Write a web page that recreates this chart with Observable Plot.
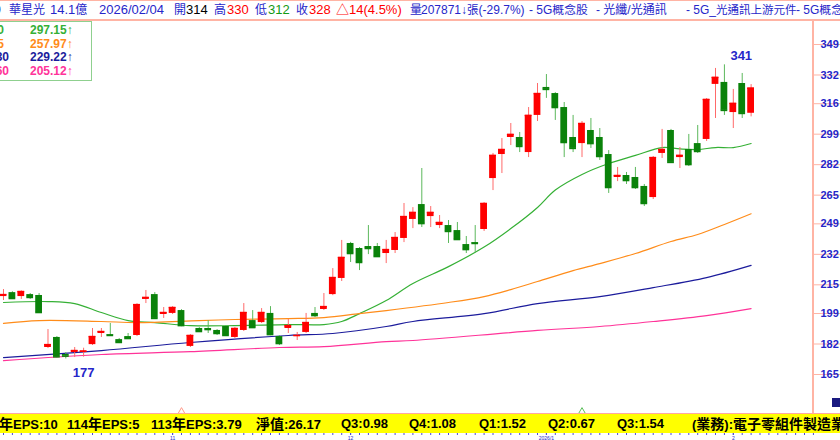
<!DOCTYPE html>
<html><head><meta charset="utf-8">
<script src="https://cdn.jsdelivr.net/npm/d3@7"></script>
<script src="https://cdn.jsdelivr.net/npm/@observablehq/plot@0.6"></script>
<style>
body{margin:0;background:#fff;}
#wrap{position:relative;width:840px;height:440px;overflow:hidden;font-family:"Liberation Sans",Arial,"Noto Sans CJK TC",sans-serif;}
#wrap svg{position:absolute;left:0;top:0;}
#hdr{position:absolute;left:0;top:0;width:840px;height:18px;border-top:1px solid #ffb4a4;border-bottom:2px solid #ffb4a4;background:#fff;z-index:2;overflow:hidden;}
#hdr span.it{position:absolute;top:1px;line-height:16px;white-space:pre;}
#leg{position:absolute;left:-40px;top:21px;width:130px;height:58px;border:1px solid #8fd08f;background:#fff;z-index:2;}
#leg span{position:absolute;font-size:12px;font-weight:bold;line-height:14px;white-space:pre;}
#bar{position:absolute;left:0;top:413px;width:840px;height:19px;border-top:1px solid #ffa8a0;background:#ffff00;z-index:2;overflow:hidden;}
#bar span.it{position:absolute;top:2px;font-size:13px;font-weight:bold;line-height:16px;color:#000;white-space:pre;}
#vline{position:absolute;left:812px;top:20px;width:2px;height:393px;background:#ffb4a4;z-index:3;}
#icon{position:absolute;left:832px;top:398px;width:8px;height:9px;background:#1a1a80;z-index:3;}
</style></head><body><div id="wrap"></div>
<script>
// ---- candle data ----
const opens  = [211.8,214.0,211.8,212.9,212.4,183.4,189.0,179.5,180.6,180.6,185.0,191.2,190.6,187.8,189.5,190.1,210.2,212.9,201.8,202.4,204.0,184.0,194.0,194.0,192.9,195.1,189.0,192.9,198.4,197.3,202.4,189.5,194.0,189.5,191.8,202.4,204.6,212.9,221.9,241.4,238.6,239.7,239.7,235.8,237.5,244.2,254.8,263.1,256.4,251.4,251.4,248.6,240.8,241.9,249.2,277.6,291.0,300.5,300.5,292.1,312.8,328.4,325.0,317.2,300.5,297.1,304.4,300.5,291.0,278.2,279.3,278.2,273.2,267.0,291.6,304.4,289.3,293.8,297.1,299.4,330.1,331.2,314.4,330.6,314];
const highs  = [215.7,214.5,215.0,213.5,213.5,193.4,189.5,180.6,183.4,183.0,194.0,194.0,196.8,188.4,191.2,207.8,215.2,214.0,205.7,206.2,204.5,190.6,194.5,198.4,193.4,195.6,194.5,207.9,204.0,205.1,206.2,190.0,199.0,191.8,202.4,205.7,213.5,227.4,243.1,242.0,239.1,251.4,241.4,243.1,247.5,263.7,261.4,283.2,262.0,257.0,254.2,253.1,245.3,251.4,264.2,291.6,299.9,308.3,303.3,317.2,330.6,335.6,325.5,320.0,312.8,309.4,311.1,305.5,293.2,283.8,281.0,283.8,274.3,289.9,305.0,305.0,294.9,302.2,307.2,322.2,339.0,341.0,327.3,336.2,330];
const lows   = [209.6,210.2,210.2,210.2,202.5,182.8,177.6,177.0,177.8,178.0,184.5,189.0,189.8,185.6,188.0,189.5,207.9,199.0,199.6,201.8,195.0,183.4,191.8,191.2,190.1,189.5,188.4,192.3,194.0,196.8,190.0,184.5,191.2,187.3,191.2,200.1,204.0,212.3,220.2,230.8,226.3,235.2,233.6,230.2,235.8,241.9,249.7,250.3,250.3,249.7,241.4,243.1,235.8,235.8,248.1,270.9,280.4,296.0,292.1,289.3,309.4,322.3,310.0,289.3,292.1,289.3,294.4,287.7,269.3,275.9,274.3,271.5,262.0,265.9,288.8,286.0,283.2,284.3,291.6,298.3,311.1,312.8,305.5,311.1,312];
const closes = [212.9,210.7,214.6,211.3,202.9,185.0,178.2,178.6,181.7,181.4,189.5,192.3,190.1,186.2,188.4,207.3,211.3,199.6,202.9,205.7,195.6,190.1,192.3,193.4,191.2,190.1,194.0,202.9,194.5,202.9,190.6,185.6,195.6,190.1,197.3,201.2,206.2,222.4,233.6,235.8,230.8,238.6,234.1,238.0,244.7,256.4,258.7,252.5,258.7,253.1,248.1,243.6,238.0,241.4,263.7,290.5,293.8,302.2,295.5,312.8,325.0,327.3,317.2,297.7,294.4,308.3,297.1,289.9,272.6,279.3,276.5,272.6,263.7,289.3,293.8,286.6,290.5,285.4,292.7,321.7,334.0,315.6,319.5,313.9,328];

// ---- moving averages (by candle index) ----
const ma20Idx = [0,5,8,11,14,17,21,26,32,36,38,40,43,46,50,54,57,60,62,65,68,71,74,76,78,80,82,84];
const ma20Val = [208.5,209.0,207.9,202.9,198.4,197.3,195.6,195.6,196.2,196.2,197.9,202.3,209.6,219.1,228.5,239.4,249.7,261.5,271.2,279.9,286.0,290.5,294.9,294.1,293.8,294.9,294.9,297.15];
const maOIdx = [0,4,11,15,22,26,32,36,40,43,50,54,57,60,64,67,71,75,78,81,84];
const maOVal = [196.8,198.4,197.9,197.3,198.4,199.0,199.5,200.1,202.3,204.0,208.5,211.8,215.7,220.2,226.3,230.2,235.8,242.5,246.4,252.0,257.97];
const maBIdx = [0,11,21,32,37,43,46,54,60,67,73,79,84];
const maBVal = [177.8,181.7,186.2,190.1,191.2,195.1,197.9,202.3,207.9,211.8,216.8,222.4,229.22];
const maPIdx = [0,11,21,31,36,43,46,60,67,73,79,84];
const maPVal = [176.1,179.5,181.1,183.4,183.9,186.7,187.3,192.9,195.1,197.9,201.2,205.12];
const maLabels = ["MA20","MA55","MA130","MA260"];
const maColors = ["#35b035","#ff8c1a","#1c1c9c","#ff3399"];

// ---- axis ticks / labels ----
const yTicks = [349,332,316,299,282,265,249,232,215,199,182,165];
const monthIdx = [19,39,61,82];
const monthLabels = ["11","12","2026/1","2"];
const markerIdx = [20,65];
const markerColors = ["#ff9a8a","#5cbf5c"];

// ---- header & footer texts ----
const headerItems = [
  ["4979","#2626c9"],["華星光","#2626c9"],["14.1億","#2626c9"],["2026/02/04","#2626c9"],
  ["開","#2626c9"],["314","#000"],["高","#2626c9"],["330","#ff0000"],["低","#2626c9"],["312","#139a13"],
  ["收","#2626c9"],["328","#ff0000"],["△14(4.5%)","#ff0000"],["量","#2626c9"],["207871↓張(-29.7%)","#2626c9"],
  ["- 5G概念股","#2626c9"],["- 光纖/光通訊","#2626c9"],["- 5G_光通訊上游元件","#2626c9"],["- 5G概念股","#2626c9"]
];
const footerItems = ["115年EPS:10","114年EPS:5","113年EPS:3.79","淨值:26.17","Q3:0.98","Q4:1.08","Q1:1.52","Q2:0.67","Q3:1.54","(業務):電子零組件製造業"];

// layout (pixel positions / sizes of the text strips)
const headerLeft = [-28,9,50,99,174,186,214,227,255,268,296,309,336,410,421,529,596,686,796];
const headerSize = [13,13,13,13,13,13,13,13,13,13,13,13,13,12,12,12,12,12,12];
const headerCjk  = [12,12,12,12,12,12,12,12,12,12,12,12,12,12,11.5,11.8,12,11.5,11.8];
const footerLeft = [-22,67,151,256,341,409,479,548,617,692];

const BLUE = "#2626c9";
const candles = opens.map((o,i)=>({i,o,h:highs[i],l:lows[i],c:closes[i],up:closes[i]>=o}));
const RED="#ff0000", GREEN="#0a820a", REDW="#ff6a6a", GREENW="#5cb85c";
const hiI = d3.maxIndex(highs), loI = d3.minIndex(lows);
const W = 0.38;
const XMIN = -0.337, XMAX = 91.01;

const maSets = [[ma20Idx,ma20Val],[maOIdx,maOVal],[maBIdx,maBVal],[maPIdx,maPVal]];
const maMarks = maSets.map(([ix,vs],k)=>Plot.line(ix.map((x,j)=>({x,y:vs[j]})),{x:"x",y:"y",stroke:maColors[k],strokeWidth:1.2,curve:"catmull-rom"}));

const chart = Plot.plot({
  width:840, height:440,
  marginLeft:0, marginRight:27, marginTop:20, marginBottom:27,
  style:{fontFamily:"Liberation Sans, Arial, sans-serif", background:"transparent"},
  x:{domain:[XMIN,XMAX]},
  y:{domain:[146.6,365.73]},
  marks:[
    Plot.axisX({ticks:d3.range(0,92), tickSize:22, tickFormat:()=>"", stroke:"#4a4ad8"}),
    Plot.axisX({ticks:monthIdx, tickSize:22, tickPadding:1, tickFormat:d=>monthLabels[monthIdx.indexOf(d)], fontSize:5, fill:BLUE, stroke:"#4a4ad8"}),
    Plot.axisY({anchor:"right", ticks:yTicks, tickSize:27, tickPadding:-20, textAnchor:"start", dy:-6, tickFormat:d=>String(d), stroke:"#ffb4a4", fill:BLUE, fontSize:11, fontWeight:"bold"}),
    ...maMarks,
    Plot.ruleX(candles,{x:"i", y1:"l", y2:"h", stroke:d=>d.up?REDW:GREENW, strokeWidth:1}),
    Plot.rect(candles,{x1:d=>d.i-W, x2:d=>d.i+W, y1:"o", y2:"c", fill:d=>d.up?RED:GREEN}),
    Plot.ruleY(candles,{y:"c", x1:d=>d.i-W, x2:d=>d.i+W, stroke:d=>d.up?RED:GREEN, strokeWidth:1.5}),
    Plot.text([hiI],{x:d=>d, y:d=>highs[d], text:d=>String(Math.round(highs[d])), dx:6, dy:-9, textAnchor:"start", fill:BLUE, fontSize:13, fontWeight:"bold"}),
    Plot.text([loI],{x:d=>d, y:d=>lows[d], text:d=>String(Math.round(lows[d])), dx:7, dy:14, textAnchor:"start", fill:BLUE, fontSize:13, fontWeight:"bold"}),
    Plot.dot(markerIdx,{x:d=>d, frameAnchor:"bottom", dy:-2, symbol:"triangle", r:2.5, fill:"none", stroke:(d,k)=>markerColors[k], strokeWidth:1})
  ]
});

const wrap = document.getElementById("wrap");
wrap.appendChild(chart);

// put CJK runs in their own size so the strip widths match
function fillText(el, t, cjkSize){
  const re = /([\u3400-\u9fff\uff00-\uffef]+)/g;
  t.split(re).forEach(part=>{
    if(!part) return;
    if(re.test(part)){ const s=document.createElement("span"); s.style.fontSize=cjkSize+"px"; s.textContent=part; el.appendChild(s); }
    else el.appendChild(document.createTextNode(part));
    re.lastIndex=0;
  });
}

// header
const hdr = document.createElement("div"); hdr.id="hdr";
headerItems.forEach(([t,c],k)=>{const s=document.createElement("span"); s.className="it"; s.style.fontSize=headerSize[k]+"px"; fillText(s,t,headerCjk[k]); s.style.color=c; s.style.left=headerLeft[k]+"px"; hdr.appendChild(s);});
wrap.appendChild(hdr);

// legend
const leg = document.createElement("div"); leg.id="leg";
const lastVals = maSets.map(([ix,vs])=>vs[vs.length-1]);
maLabels.forEach((lab,k)=>{
  const a=document.createElement("span"); a.textContent=lab; a.style.color=maColors[k];
  a.style.right=(130-40-(k<2?3:8))+"px"; a.style.top=(1+k*13.7)+"px"; leg.appendChild(a);
  const b=document.createElement("span"); b.textContent=lastVals[k].toFixed(2)+"↑"; b.style.color=maColors[k];
  b.style.left=(40+29)+"px"; b.style.top=(1+k*13.7)+"px"; leg.appendChild(b);
});
wrap.appendChild(leg);

// footer bar
const bar = document.createElement("div"); bar.id="bar";
footerItems.forEach((t,k)=>{const s=document.createElement("span"); s.className="it"; fillText(s,t,14); s.style.left=footerLeft[k]+"px"; bar.appendChild(s);});
wrap.appendChild(bar);

const vl=document.createElement("div"); vl.id="vline"; wrap.appendChild(vl);
const ic=document.createElement("div"); ic.id="icon"; wrap.appendChild(ic);
</script>
</body></html>
